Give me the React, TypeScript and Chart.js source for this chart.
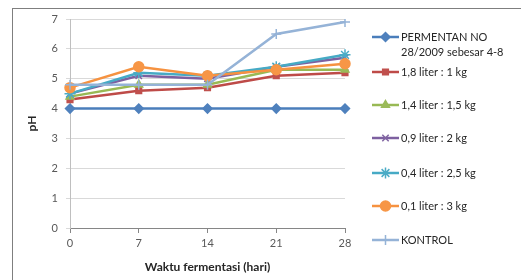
import React, { useEffect, useRef } from "react";
import { Chart, registerables } from "chart.js";
import { drawPoint } from "chart.js/helpers";

Chart.register(...registerables);

const days = ["0", "7", "14", "21", "28"];
const permentan = [4, 4, 4, 4, 4];
const s18 = [4.3, 4.6, 4.7, 5.1, 5.2];
const s14 = [4.4, 4.8, 4.8, 5.3, 5.3];
const s09 = [4.5, 5.1, 5.0, 5.4, 5.7];
const s04 = [4.5, 5.2, 5.1, 5.4, 5.8];
const s01 = [4.7, 5.4, 5.1, 5.3, 5.5];
const kontrol = [4.8, 4.8, 4.8, 6.5, 6.9];

const seriesNames: (string | string[])[] = [
  ["PERMENTAN NO", "28/2009 sebesar 4-8"],
  "1,8 liter : 1 kg",
  "1,4 liter : 1,5 kg",
  "0,9 liter : 2 kg",
  "0,4 liter : 2,5 kg",
  "0,1 liter : 3 kg",
  "KONTROL",
];
const seriesData = [permentan, s18, s14, s09, s04, s01, kontrol];
const lineColors = ["#4A7EBB", "#BE4B48", "#98B954", "#7D60A0", "#46AAC5", "#F69240", "#95B3D7"];
const markerColors = ["#4F81BD", "#C0504D", "#9BBB59", "#8064A2", "#4BACC6", "#F79646", "#95B3D7"];
const markerStyles = ["rectRot", "rect", "triangle", "crossRot", "star", "circle", "cross"];
const markerRadii = [4.5, 4, 4.5, 4.5, 5.5, 5, 5];

const legendY = [37, 72, 105, 138, 173, 206, 240];
const FONT = "Lato, 'Open Sans', sans-serif";

const legendPlugin = {
  id: "sideLegend",
  afterDraw(chart: any) {
    const ctx = chart.ctx;
    ctx.save();
    chart.data.datasets.forEach((ds: any, i: number) => {
      const y = legendY[i];
      ctx.strokeStyle = ds.borderColor;
      ctx.lineWidth = 2.5;
      ctx.beginPath();
      ctx.moveTo(372, y);
      ctx.lineTo(399, y);
      ctx.stroke();
      ctx.fillStyle = ds.pointBackgroundColor;
      ctx.strokeStyle = ds.pointBorderColor;
      ctx.lineWidth = 1.5;
      drawPoint(ctx, { pointStyle: ds.pointStyle, radius: ds.pointRadius, borderWidth: 1.5, rotation: 0 } as any, 385.5, y);
      ctx.fillStyle = "#262626";
      ctx.font = `11px ${FONT}`;
      ctx.textBaseline = "middle";
      ctx.textAlign = "left";
      const lines = Array.isArray(ds.label) ? ds.label : [ds.label];
      lines.forEach((t: string, k: number) => ctx.fillText(t, 401, y + k * 15.5));
    });
    ctx.restore();
  },
};

export default function App() {
  const ref = useRef<HTMLCanvasElement>(null);
  useEffect(() => {
    if (!ref.current) return;
    const chart = new Chart(ref.current, {
      type: "line",
      data: {
        labels: days,
        datasets: seriesData.map((d, i) => ({
          label: seriesNames[i] as any,
          data: d,
          borderColor: lineColors[i],
          backgroundColor: markerColors[i],
          pointBackgroundColor: markerColors[i],
          pointBorderColor: markerColors[i],
          pointStyle: markerStyles[i] as any,
          pointRadius: markerRadii[i],
          pointBorderWidth: 1.5,
          borderWidth: 2.5,
          tension: 0,
          order: 6 - i,
        })),
      },
      options: {
        responsive: false,
        animation: false,
        events: [],
        layout: { padding: { top: 19, right: 176, left: 0, bottom: 0 } },
        plugins: { legend: { display: false }, tooltip: { enabled: false } },
        scales: {
          x: {
            type: "category",
            offset: false,
            afterFit: (s: any) => { s.height = 52; },
            grid: { drawOnChartArea: false, tickLength: 5, color: "#868686" },
            border: { color: "#868686", width: 1 },
            ticks: { color: "#595959", font: { family: FONT, size: 11 }, padding: 4, maxRotation: 0 },
            title: {
              display: true,
              text: "Waktu fermentasi (hari)",
              color: "#262626",
              font: { family: FONT, size: 12, weight: "bold" },
              padding: { top: 0, bottom: 6 },
            },
          },
          y: {
            min: 0,
            max: 7,
            afterFit: (s: any) => { s.width = 70; },
            grid: { color: "#D9D9D9", tickLength: 4, lineWidth: 1 },
            border: { color: "#BFBFBF", width: 1 },
            ticks: { stepSize: 1, color: "#595959", font: { family: FONT, size: 11 }, padding: 8 },
            title: {
              display: true,
              text: "pH",
              color: "#262626",
              font: { family: FONT, size: 12, weight: "bold" },
              padding: { top: 25, bottom: 0 },
            },
          },
        },
      },
      plugins: [legendPlugin],
    });
    return () => chart.destroy();
  }, []);

  return (
    <div style={{ position: "fixed", left: 0, top: 0, width: 521, height: 280, background: "#fff", overflow: "hidden" }}>
      <div
        style={{
          position: "absolute",
          left: 40,
          top: -23,
          fontFamily: "'Liberation Serif', 'DejaVu Serif', serif",
          fontSize: 22,
          lineHeight: "22px",
          whiteSpace: "nowrap",
          color: "#000",
        }}
      >
        beberapa minggu pengamatan terhadap pH
      </div>
      <div
        style={{
          position: "absolute",
          left: 12,
          top: 8,
          width: 520,
          height: 280,
          borderLeft: "1px solid #7F7F7F",
          borderTop: "1px solid #7F7F7F",
        }}
      />
      <canvas ref={ref} width={521} height={280} style={{ position: "absolute", left: 0, top: 0 }} />
    </div>
  );
}
